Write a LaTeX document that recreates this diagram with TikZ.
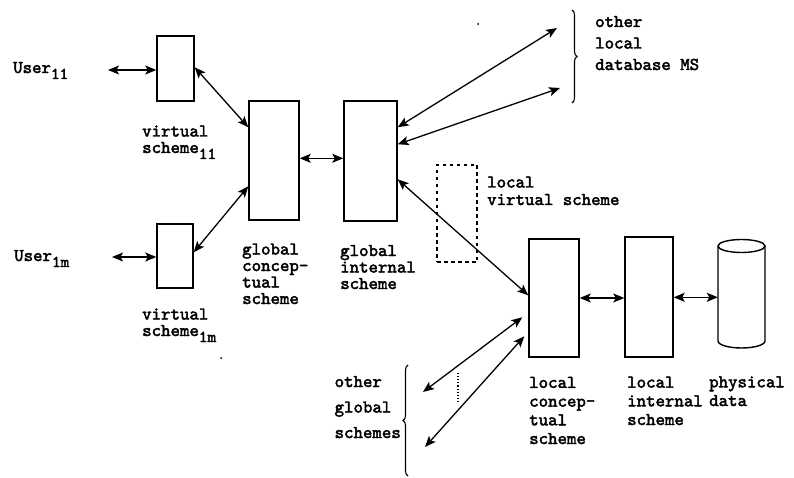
\documentclass[tikz,border=0pt]{standalone}
\usepackage{fontspec}
% heavy typewriter face for all labels
\newfontfamily\typer{lmmono10-regular.otf}[FakeBold=2.4]
\usetikzlibrary{arrows.meta,decorations.pathreplacing,calc}

% lowered index as typed on the typewriter
\newcommand\lowidx[1]{\raisebox{-6pt}{\fontsize{16.5}{16.5}\selectfont #1}}

\begin{document}
\begin{tikzpicture}[x=1pt,y=-1pt,
  every node/.style={font=\typer\fontsize{18}{16.5}\selectfont},
  box/.style={draw, line width=1.4pt, inner sep=0pt},
  % multi-line labels are placed by the baseline of their last line
  lbl/.style={align=left, anchor=base west, inner sep=0pt},
  link/.style={line width=1.3pt,
    {Stealth[length=11pt,width=9pt,inset=2.5pt]}-{Stealth[length=11pt,width=9pt,inset=2.5pt]}},
  curly/.style={decorate, decoration={brace, amplitude=5pt}, line width=1.1pt}
]
\useasboundingbox (0,0) rectangle (794,478);

% scheme boxes
\node[box, minimum width=37pt, minimum height=65pt]  (vs11) at (175.5,68.5) {};
\node[box, minimum width=36pt, minimum height=64pt]  (vs1m) at (175,256) {};
\node[box, minimum width=50pt, minimum height=119pt] (gcs)  at (274,160.5) {};
\node[box, minimum width=53pt, minimum height=120pt] (gis)  at (370.5,161) {};
\node[box, dashed, dash pattern=on 3.5pt off 3.5pt, line width=1.1pt,
      minimum width=40pt, minimum height=97pt]       (lvs)  at (457,213.5) {};
\node[box, minimum width=50pt, minimum height=118pt] (lcs)  at (554,298) {};
\node[box, minimum width=48pt, minimum height=120pt] (lis)  at (649,297) {};

% physical data store
\node[inner sep=0pt, minimum width=47pt, minimum height=108pt] (cyl) at (741.5,294.5) {};
\draw[line width=1.4pt] (718,246) -- (718,341)
  arc[start angle=180, end angle=360, x radius=23.5pt, y radius=7pt]
  -- (765,246);
\draw[line width=1.4pt] (741.5,246) ellipse [x radius=23.5pt, y radius=6.5pt];

% labels
\node[lbl] (u11t) at (13,73) {User\lowidx{11}};
\node[lbl] (u1mt) at (14,261) {User\lowidx{1m}};
\node[lbl] (vs11t) at (142,153) {virtual\\scheme\lowidx{11}};
\node[lbl] (vs1mt) at (142,336) {virtual\\scheme\lowidx{1m}};
\node[lbl] (gcst) at (242,304) {global\\concep-\\tual\\scheme};
\node[lbl] (gist) at (340,289) {global\\internal\\scheme};
\node[lbl, font=\typer\fontsize{18}{17.5}\selectfont] (lvst) at (487,205) {local\\virtual scheme};
\node[lbl, font=\typer\fontsize{18}{18.7}\selectfont] (lcst) at (529,444) {local\\concep-\\tual\\scheme};
\node[lbl, font=\typer\fontsize{18}{18.7}\selectfont] (list) at (627,425) {local\\internal\\scheme};
\node[lbl, font=\typer\fontsize{18}{18.7}\selectfont] (pdt)  at (709,406) {physical\\data};
\node[lbl, font=\typer\fontsize{18}{21.5}\selectfont] (oldt) at (595,70) {other\\local\\database MS};
\node[lbl, anchor=base east, font=\typer\fontsize{18}{25.5}\selectfont]
  (ogst) at (401,438) {other\\global\\schemes};

% free ends of the connectors
\coordinate (u11) at (108,70);
\coordinate (u1m) at (112,257);
\coordinate (od1) at (557,28);
\coordinate (od2) at (560,88);
\coordinate (og1) at (423,392);
\coordinate (og2) at (425,447);
\coordinate (lis2cyl) at ($(lis.north east)+(0,61)$);

% connectors
\draw[link] (u11) -- (u11 -| vs11.west);
\draw[link] (u1m) -- (u1m -| vs1m.west);
\draw[link] ($(vs11.north east)+(0,32)$) -- ($(gcs.north west)+(0,27)$);
\draw[link] ($(vs1m.north east)+(0,29)$) -- ($(gcs.north west)+(0,86)$);
\draw[link] ($(gcs.north east)+(0,58)$) -- ($(gis.north west)+(0,58)$);
\draw[link] ($(gis.north east)+(0,27)$) -- (od1);
\draw[link] ($(gis.north east)+(0,44)$) -- (od2);
\draw[link] ($(gis.north east)+(0,79)$) -- ($(lcs.north west)+(0,57)$);
\draw[link] ($(lcs.north west)+(-6,79)$) -- (og1);
\draw[link] ($(lcs.north west)+(-4,98)$) -- (og2);
\draw[link] (lcs.east) -- (lcs.east -| lis.west);
\draw[link] (lis2cyl) -- (lis2cyl -| cyl.west);

% dotted gap between the other global schemes
\draw[line width=1.1pt, dotted] (458,373) -- (458,402);

% braces
\draw[curly] (572,10) -- (572,103);
\draw[curly] (408,476) -- (408,365);

% stray specks
\fill (478,24) circle[radius=1pt];
\fill (221,358) circle[radius=1pt];
\end{tikzpicture}
\end{document}
